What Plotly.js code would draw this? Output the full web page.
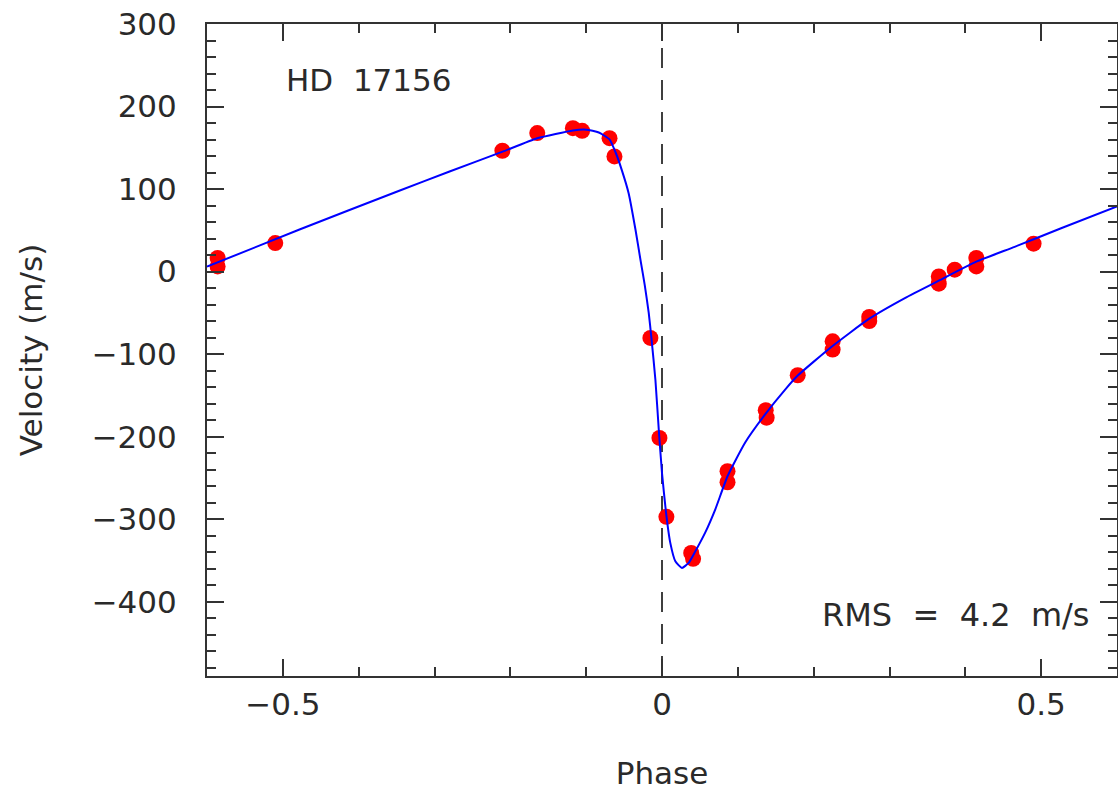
<!DOCTYPE html>
<html>
<head>
<meta charset="utf-8">
<script src="https://cdn.plot.ly/plotly-3.0.1.min.js"></script>
<style>html,body{margin:0;padding:0;background:#fff;}#chart{width:1118px;height:791px;}</style>
</head>
<body>
<div id="chart"></div>
<script>
// Observed radial velocities (phase-folded)
var obsPhase = [-0.586, -0.586, -0.510, -0.2105, -0.1645, -0.1175, -0.1053, -0.0692, -0.0627,
  -0.0153, -0.0034, 0.0058, 0.0385, 0.0410, 0.0864, 0.0864, 0.1368, 0.1380, 0.1790,
  0.2250, 0.2250, 0.2733, 0.2733, 0.3650, 0.3650, 0.3860, 0.4145, 0.4145, 0.4900];
var obsVel = [16.5, 6.3, 34.6, 146.4, 167.8, 173.8, 170.6, 161.7, 139.5,
  -80.4, -201.5, -297.1, -341, -348, -241.9, -255.2, -168, -177, -125.6,
  -84.5, -94.5, -55, -60, -5.8, -14.6, 2.3, 16.5, 6.3, 33.8];

// Orbit fit curve
var fitPhase = [-0.6, -0.478, -0.3465, -0.281, -0.211, -0.1645, -0.1175, -0.1, -0.0833, -0.069,
  -0.061, -0.053, -0.044, -0.035, -0.028, -0.0228, -0.0175, -0.014, -0.0087, -0.0043, 0,
  0.0053, 0.011, 0.0176, 0.0263, 0.0351, 0.0439, 0.0571, 0.0703, 0.0864, 0.1097, 0.136,
  0.1624, 0.179, 0.2237, 0.2733, 0.3203, 0.365, 0.4145, 0.465, 0.5263, 0.6];
var fitVel = [6, 51, 98, 121, 145, 161.5, 171, 172, 168.5, 160,
  144, 123, 95, 51, 12, -16, -50, -80, -131, -191, -244,
  -292, -329, -351, -359, -353, -339, -316, -288, -248, -207, -173,
  -143, -126, -91, -57, -32, -11, 12, 30, 52.5, 79];

var starName = 'HD\u00a0\u00a017156';
var rmsText = 'RMS\u00a0\u00a0=\u00a0\u00a04.2\u00a0\u00a0m/s';

var fontFam = 'DejaVu Sans, sans-serif';
var txtColor = '#2a2a2a';

var traces = [
  {x: obsPhase, y: obsVel, mode: 'markers', type: 'scatter',
   marker: {color: '#ff0000', size: 16, line: {width: 0}}, hoverinfo: 'x+y'},
  {x: fitPhase, y: fitVel, mode: 'lines', type: 'scatter',
   line: {color: '#0000ff', width: 2, shape: 'spline', smoothing: 0.5}, hoverinfo: 'x+y'}
];

var axisCommon = {
  showgrid: false, zeroline: false, showline: true, linecolor: '#333', linewidth: 2,
  mirror: 'allticks', ticks: 'inside', ticklen: 17, tickwidth: 2, tickcolor: '#333',
  tickfont: {family: fontFam, size: 31, color: txtColor}
};

var layout = {
  width: 1118, height: 791,
  margin: {l: 207, r: 1, t: 24, b: 115},
  paper_bgcolor: '#fff', plot_bgcolor: '#fff',
  showlegend: false,
  font: {family: fontFam, color: txtColor},
  xaxis: Object.assign({}, axisCommon, {
    range: [-0.6, 0.6], tick0: 0, dtick: 0.5,
    minor: {dtick: 0.1, ticks: 'inside', ticklen: 9, tickwidth: 2, tickcolor: '#333', showgrid: false},
    ticklabelstandoff: 0,
    title: {text: 'Phase', font: {family: fontFam, size: 31, color: txtColor}, standoff: 52}
  }),
  yaxis: Object.assign({}, axisCommon, {
    range: [-490, 300], tick0: 0, dtick: 100,
    minor: {dtick: 20, ticks: 'inside', ticklen: 9, tickwidth: 2, tickcolor: '#333', showgrid: false},
    ticklabelstandoff: 22,
    title: {text: 'Velocity (m/s)', font: {family: fontFam, size: 31, color: txtColor}, standoff: 40}
  }),
  shapes: [
    {type: 'line', xref: 'x', yref: 'paper', x0: 0, x1: 0, y0: 0, y1: 1, layer: 'below',
     line: {color: '#000', width: 1.5, dash: '20px,12px'}}
  ],
  annotations: [
    {text: starName, xref: 'paper', yref: 'paper', x: 0.0847, y: 0.914, xanchor: 'left', yanchor: 'middle',
     showarrow: false, font: {family: fontFam, size: 31, color: txtColor}},
    {text: rmsText, xref: 'paper', yref: 'paper', x: 0.9725, y: 0.0936, xanchor: 'right', yanchor: 'middle',
     showarrow: false, font: {family: fontFam, size: 32, color: txtColor}}
  ]
};

Plotly.newPlot('chart', traces, layout, {displayModeBar: false, staticPlot: true});
</script>
</body>
</html>
